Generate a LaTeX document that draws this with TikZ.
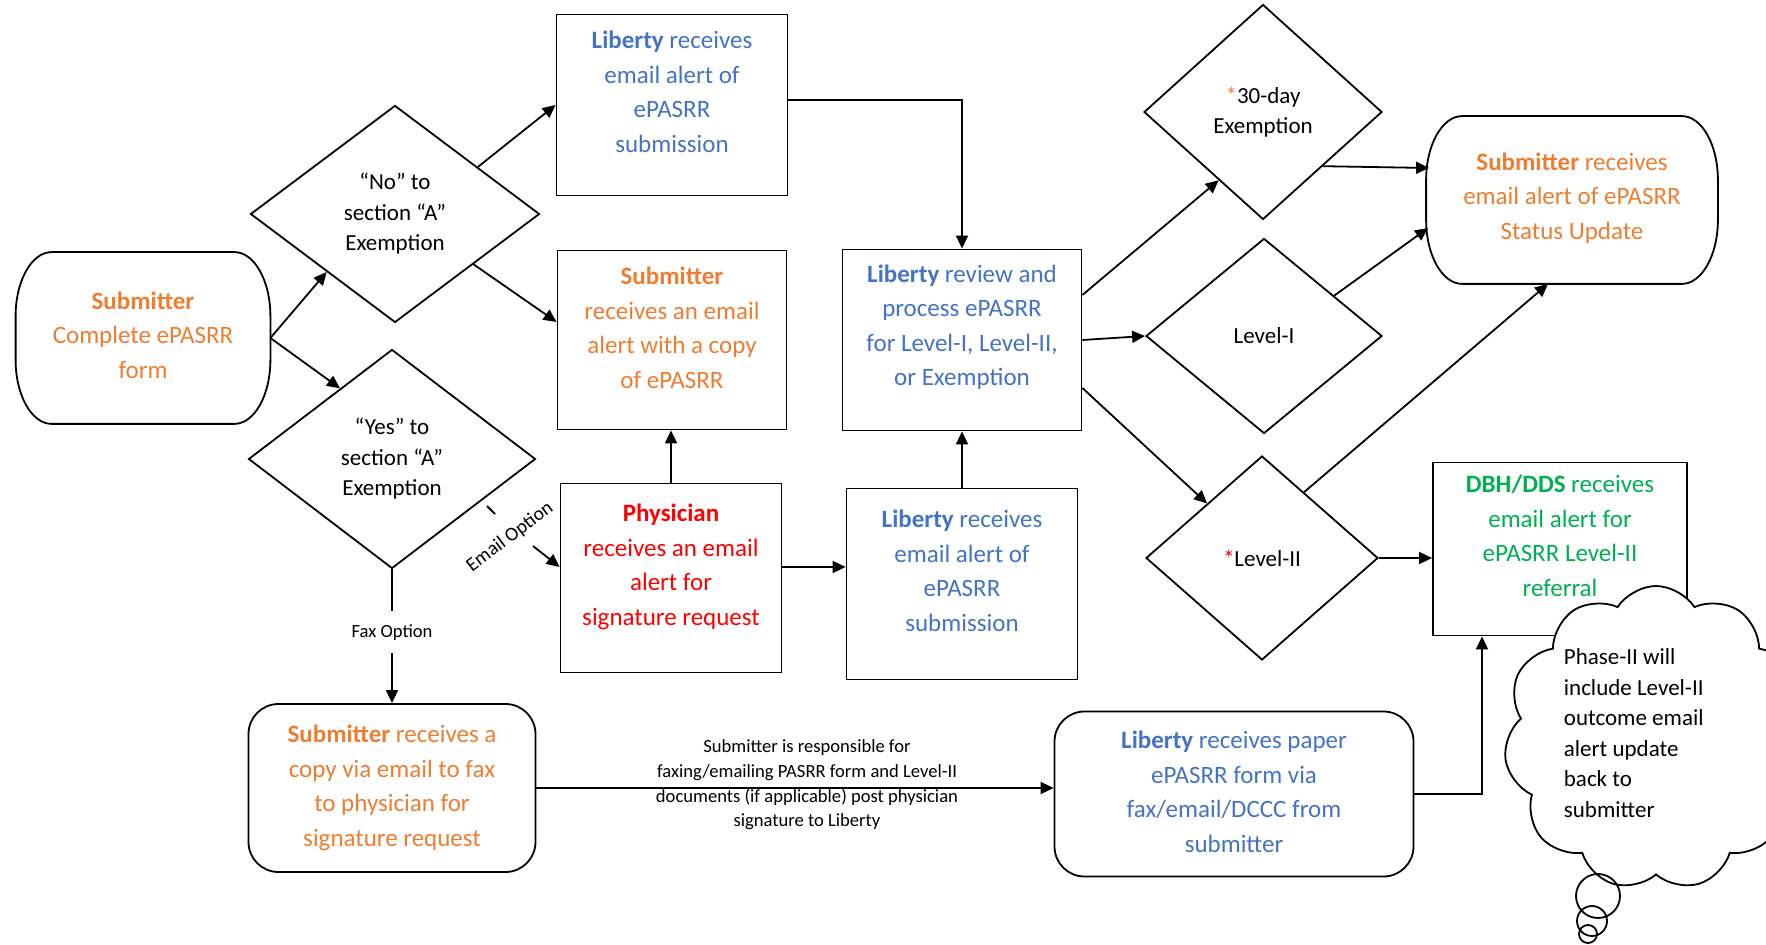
\documentclass[tikz,border=0pt]{standalone}
\usepackage{fontspec}
\setmainfont{Carlito}
\usetikzlibrary{shapes.geometric,shapes.symbols,arrows.meta,calc}
\definecolor{corange}{HTML}{ED7D31}
\definecolor{cblue}{HTML}{4472C4}
\definecolor{cred}{HTML}{FF0000}
\definecolor{cgreen}{HTML}{00B050}
\newcommand\termshape[1]{%
  \draw ([xshift=18pt]#1.north west) -- ([xshift=-18pt]#1.north east)
    arc[start angle=90, end angle=0, x radius=18pt, y radius=32pt]
    -- ([yshift=32pt]#1.south east)
    arc[start angle=0, end angle=-90, x radius=18pt, y radius=32pt]
    -- ([xshift=18pt]#1.south west)
    arc[start angle=270, end angle=180, x radius=18pt, y radius=32pt]
    -- ([yshift=-32pt]#1.north west)
    arc[start angle=180, end angle=90, x radius=18pt, y radius=32pt] -- cycle;}
\begin{document}
\begin{tikzpicture}[x=0.5pt,y=-0.5pt, line width=0.9pt,
  arr/.style={-{Triangle[length=6.5pt,width=6pt]}},
  box/.style={draw, rectangle, inner sep=0pt},
  rbox/.style={draw, rectangle, rounded corners=15pt, inner sep=0pt},
  term/.style={draw=none, rectangle, inner sep=0pt},
  dia/.style={draw, diamond, inner sep=0pt, align=center, font=\fontsize{11.5}{15.25}\selectfont},
  btext/.style={align=center, inner sep=0pt, font=\fontsize{12.5}{17.25}\selectfont},
  small/.style={align=center, inner sep=0pt, font=\fontsize{9.3}{12.35}\selectfont},
]
\useasboundingbox (0,0) rectangle (1766,945);

% ---- shapes ----
\node[term, minimum width=126.5pt, minimum height=85pt] (start) at (143,338) {};
\termshape{start}
\node[btext, text=corange] (startt) at (143,335) {\textbf{Submitter}\\Complete ePASRR\\form};

\node[dia, minimum width=144.5pt, minimum height=108.5pt] (no) at (395,214) {“No” to\\section “A”\\Exemption};
\node[dia, minimum width=143.5pt, minimum height=109.5pt] (yes) at (392,459) {“Yes” to\\section “A”\\Exemption};

\node[box, minimum width=115.5pt, minimum height=90.5pt] (lib1) at (672,105) {};
\node[btext, text=cblue] (lib1t) at (672,92) {\textbf{Liberty} receives\\email alert of\\ePASRR\\submission};

\node[box, minimum width=114.5pt, minimum height=89.5pt] (subm) at (672,340) {};
\node[btext, text=corange] (submt) at (672,328) {\textbf{Submitter}\\receives an email\\alert with a copy\\of ePASRR};

\node[box, minimum width=110.5pt, minimum height=94.5pt] (phys) at (671,578) {};
\node[btext, text=cred] (physt) at (671,567) {\textbf{Physician}\\receives an email\\alert for\\signature request};

\node[box, minimum width=115.5pt, minimum height=95.5pt] (lib2) at (962,584) {};
\node[btext, text=cblue] (lib2t) at (962,571) {\textbf{Liberty} receives\\email alert of\\ePASRR\\submission};

\node[box, minimum width=119.5pt, minimum height=90.5pt] (review) at (962,340) {};
\node[btext, text=cblue] (reviewt) at (962,327) {\textbf{Liberty} review and\\process ePASRR\\for Level-I, Level-II,\\or Exemption};

\node[rbox, minimum width=143.5pt, minimum height=84pt] (fax) at (392,788) {};
\node[btext, text=corange] (faxt) at (392,788) {\textbf{Submitter} receives a\\copy via email to fax\\to physician for\\signature request};

\node[rbox, minimum width=179.5pt, minimum height=82.5pt] (paper) at (1234,794) {};
\node[btext, text=cblue] (papert) at (1234,792) {\textbf{Liberty} receives paper\\ePASRR form via\\fax/email/DCCC from\\submitter};

\node[dia, minimum width=119pt, minimum height=107.5pt] (d30) at (1263,112) {{\color{corange}*}30-day\\Exemption};
\node[dia, minimum width=118pt, minimum height=97.5pt] (dl1) at (1264,336) {Level-I};
\node[dia, minimum width=116pt, minimum height=102pt] (dl2) at (1262,558) {{\color{cred}*}Level-II};

\node[term, minimum width=145pt, minimum height=83pt] (status) at (1572,200) {};
\termshape{status}
\node[btext, text=corange] (statust) at (1572,198) {\textbf{Submitter} receives\\email alert of ePASRR\\Status Update};

\node[box, minimum width=127pt, minimum height=86.5pt] (dbh) at (1560,549) {};
\node[btext, text=cgreen] (dbht) at (1560,536) {\textbf{DBH/DDS} receives\\email alert for\\ePASRR Level-II\\referral};

% ---- connectors ----
\draw[arr] (start.east) -- ($(no.west)!0.53!(no.south)$);
\draw[arr] (start.east) -- ($(yes.west)!0.64!(yes.north)$);
\draw[arr] ($(no.north)!0.57!(no.east)$) -- (lib1.west);
\draw[arr] ($(no.east)!0.46!(no.south)$) -- ([yshift=9pt]subm.west);

\coordinate (eoA) at (487,506);
\coordinate (eoB) at (495,514);
\coordinate (eoC) at (533,546);
\draw (eoA) -- (eoB);
\node[small, rotate=37, font=\fontsize{9.8}{12}\selectfont] (eolbl) at (510,537) {Email Option};
\draw[arr] (eoC) -- ([yshift=5.5pt]phys.west);

\draw[arr] (yes.south) -- node[small, fill=white, inner xsep=2pt, inner ysep=6.5pt, pos=0.47] (faxlbl) {Fax Option} (fax.north);

\draw[arr] (phys.north) -- (phys.north |- subm.south);
\draw[arr] ([yshift=5.5pt]phys.east) -- ([yshift=5.5pt]phys.east -| lib2.west);
\draw[arr] (lib2.north) -- (lib2.north |- review.south);
\draw[arr] ([yshift=2.5pt]lib1.east) -| (review.north);

\draw[arr] ([yshift=22.5pt]review.east) -- ($(d30.west)!0.63!(d30.south)$);
\draw[arr] (review.east) -- (dl1.west);
\draw[arr] ([yshift=-24pt]review.east) -- ($(dl2.west)!0.53!(dl2.north)$);

\draw[arr] ($(d30.east)!0.5!(d30.south)$) -- ($(status.west)+(3,-32)$);
\draw[arr] ($(dl1.north)!0.59!(dl1.east)$) -- ($(status.west)+(2,28)$);
\draw[arr] ($(dl2.north)!0.36!(dl2.east)$) -- ([xshift=-12pt]status.south);
\draw[arr] (dl2.east) -- (dl2.east -| dbh.west);

\draw[arr] (fax.east) -- (fax.east -| paper.west);
\node[small] (botlbl) at (807,785) {Submitter is responsible for\\faxing/emailing PASRR form and Level-II\\documents (if applicable) post physician\\signature to Liberty};
\draw[arr] (paper.east) -| ([xshift=-39pt]dbh.south);

% ---- cloud ----
\node[cloud, draw, fill=white, cloud puffs=11, cloud puff arc=115, minimum width=152pt, minimum height=152pt, inner sep=0pt] (cloud) at (1656,738) {};
\node[anchor=north west, align=left, inner sep=0pt, font=\fontsize{11.5}{15.25}\selectfont] (cloudt) at (1563,648) {Phase-II will\\include Level-II\\outcome email\\alert update\\back to\\submitter};
\node[draw, circle, minimum size=22pt, inner sep=0pt] (bub1) at (1598,896) {};
\node[draw, circle, minimum size=15pt, inner sep=0pt] (bub2) at (1592,921) {};
\node[draw, circle, minimum size=9pt, inner sep=0pt] (bub3) at (1588,934) {};
\end{tikzpicture}
\end{document}
